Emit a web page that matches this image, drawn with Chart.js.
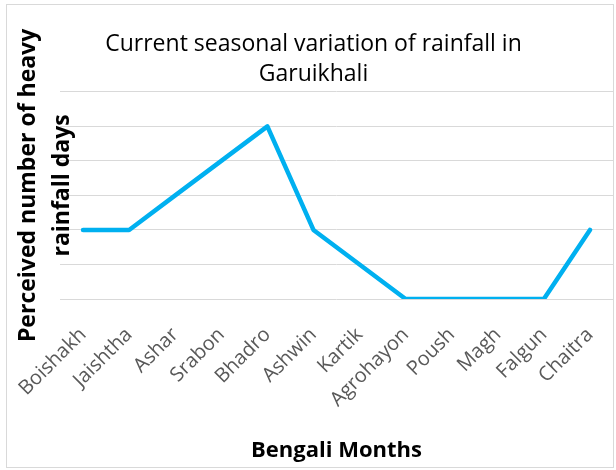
<!DOCTYPE html>
<html>
<head>
<meta charset="utf-8">
<script src="https://cdn.jsdelivr.net/npm/chart.js@4.4.0/dist/chart.umd.min.js"></script>
<style>
  body { margin: 0; background: #fff; }
  #wrap { position: relative; width: 616px; height: 470px; }
  #frame {
    position: absolute; left: 6px; top: 4px; width: 606px; height: 462px;
    border: 1px solid #d9d9d9; pointer-events: none;
  }
</style>
</head>
<body>
<div id="wrap">
  <canvas id="rainChart" width="616" height="470"></canvas>
  <div id="frame"></div>
</div>
<script>
const months = [
  "Boishakh", "Jaishtha", "Ashar", "Srabon", "Bhadro", "Ashwin",
  "Kartik", "Agrohayon", "Poush", "Magh", "Falgun", "Chaitra"
];
const heavyDays = [2, 2, 3, 4, 5, 2, 1, 0, 0, 0, 0, 2];
const chartTitle = ["Current seasonal variation of rainfall in", "Garuikhali"];
const yTitle = ["Perceived number of heavy", "rainfall days"];
const xTitle = "Bengali Months";

const FONT = "'Open Sans'";

// y axis title drawn by hand so it can sit close to the plot like in excel
const yTitlePlugin = {
  id: "yTitle",
  afterDraw(chart) {
    const ctx = chart.ctx;
    const area = chart.chartArea;
    const midY = (area.top + area.bottom) / 2 - 10;
    ctx.save();
    ctx.fillStyle = "#000";
    ctx.font = "bold 23px " + FONT;
    ctx.textAlign = "center";
    ctx.textBaseline = "middle";
    ctx.translate(28, midY);
    ctx.rotate(-Math.PI / 2);
    ctx.fillText(yTitle[0], 0, 0);
    ctx.fillText(yTitle[1], 0, 34);
    ctx.restore();
  },
};

const data = {
  labels: months,
  datasets: [
    {
      label: "Heavy rainfall days",
      data: heavyDays,
      borderColor: "#00b0f0",
      borderWidth: 4.5,
      borderCapStyle: "round",
      borderJoinStyle: "round",
      pointRadius: 0,
      tension: 0,
      fill: false,
    },
  ],
};

const config = {
  type: "line",
  data: data,
  options: {
    responsive: false,
    animation: false,
    layout: {
      padding: { left: 14, right: 3, top: 0, bottom: 6 },
    },
    plugins: {
      legend: { display: false },
      tooltip: { enabled: false },
      title: {
        display: true,
        text: chartTitle,
        color: "#000",
        font: { family: FONT, size: 23, weight: "normal", lineHeight: 1.3 },
        padding: { top: 30, bottom: 2 },
      },
    },
    scales: {
      x: {
        offset: true,
        afterFit(scale) {
          // fixed box so the plot bottom lands where excel put it
          scale.height = 165;
          scale.paddingRight = 0;
        },
        grid: { display: false, offset: true },
        border: { display: false },
        ticks: {
          color: "#595959",
          font: { family: FONT, size: 20 },
          maxRotation: 45,
          minRotation: 45,
          padding: 16,
        },
        title: {
          display: true,
          text: xTitle,
          color: "#000",
          font: { family: FONT, size: 22, weight: "bold" },
          padding: { top: 16, bottom: 0 },
        },
      },
      y: {
        min: 0,
        max: 6,
        afterFit(scale) {
          scale.width = 46;
        },
        ticks: { display: false, stepSize: 1 },
        grid: { color: "#d9d9d9", lineWidth: 1, drawTicks: false },
        border: { display: false },
      },
    },
  },
  plugins: [yTitlePlugin],
};

new Chart(document.getElementById("rainChart"), config);
</script>
</body>
</html>
